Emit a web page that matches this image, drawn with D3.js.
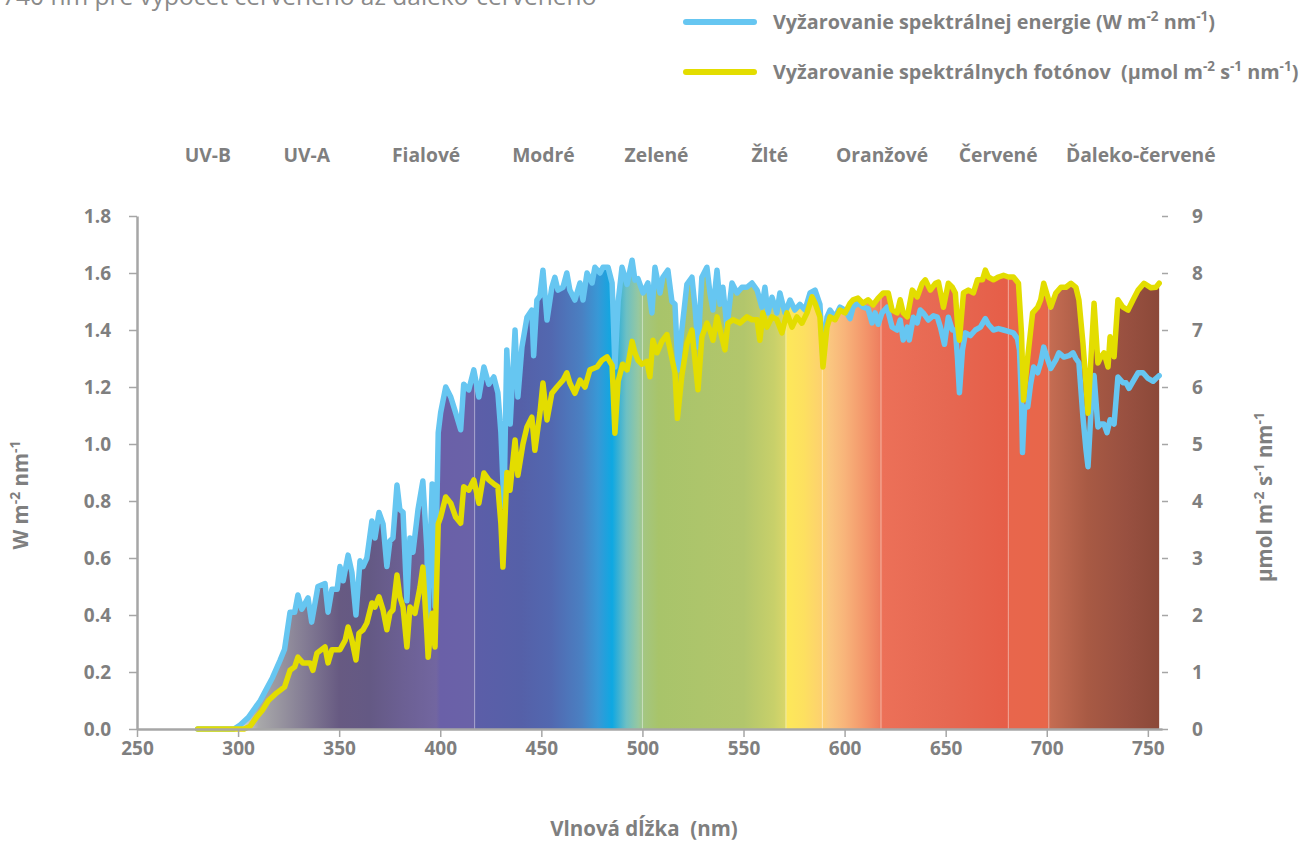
<!DOCTYPE html>
<html>
<head>
<meta charset="utf-8">
<script src="https://cdn.jsdelivr.net/npm/d3@7"></script>
<style>
  html, body { margin: 0; padding: 0; background: #fff; }
  svg { display: block; }
  text { font-family: "Open Sans", "Noto Sans", sans-serif; }
</style>
</head>
<body>
<svg id="chart" width="1309" height="844"></svg>
<script>
// Spectral energy irradiance, W m-2 nm-1 (left axis)
const energyNm = [280, 290, 298, 301, 305, 308, 311, 314, 317, 320.7, 323, 325.7, 328, 329.6, 331.5, 334.6, 336.4, 339.5, 343, 344.5,
  346.4, 349, 350.4, 352, 354.4, 356.3, 358.3, 360.3, 361.8, 363.7, 366.2, 367.7, 369.7, 371.7, 373.6, 375.1, 376.6, 378.6, 380, 381.6,
  383.5, 385, 386.5, 389, 391.4, 393.4, 394, 396, 397.4, 399, 400.2, 401.3, 402.7, 405.2, 407.6, 410.1, 411.6, 414.1, 416.6, 419.1,
  421.6, 424, 426.5, 428.5, 430, 431.5, 432.9, 434.6, 437, 438.4, 440.4, 442.9, 445.3, 446.2, 447.8, 449.3, 450.8, 452.8, 455.2, 456.7,
  458.2, 460.7, 462.6, 464.1, 466.6, 469.1, 470.6, 472.6, 475.1, 476.5, 479, 480.5, 483, 485, 486.4, 488, 489.9, 492.4, 494.9, 496.3,
  497.8, 500.3, 502.7, 504.7, 506.2, 508.7, 510.1, 512.6, 514.6, 516.1, 517.6, 519.5, 522, 524.5, 526, 527.5, 529.4, 531.9, 533.4, 534.9,
  536.9, 538.4, 539.8, 541.8, 544.3, 546.8, 549.2, 551.7, 554.2, 556.7, 559.1, 560.6, 562.1, 564.1, 566.5, 568, 570.5, 573, 575.4, 577.9,
  580.4, 582.9, 585.4, 587.8, 589.3, 591.3, 592.8, 595.3, 597.7, 600.2, 602.7, 604.2, 606.6, 609.1, 611.6, 613.6, 615.1, 616.6, 618.5, 621,
  623.5, 626, 627.5, 629, 631, 632, 634, 635.9, 637.4, 638.9, 641.4, 643.9, 645.9, 647.4, 649.4, 651.3, 653.3, 654.8, 655.8, 656.8,
  658.3, 659.8, 662.2, 664.7, 667.2, 669.6, 671.1, 673.6, 676.1, 678.6, 681, 683.5, 685.5, 686.5, 687.5, 688, 689, 690.6, 692, 693.5,
  695.5, 697, 698.5, 700.5, 702, 704.5, 706, 708.5, 711, 713, 714.4, 715.9, 717.9, 719.4, 720.4, 721.9, 723.4, 725.3, 726.8, 728.3,
  729.8, 731.3, 733.3, 735.2, 737.7, 739.2, 740.7, 742.7, 745.2, 747.6, 750.1, 752.6, 754, 755.6];
const energyVal = [0, 0, 0, 0.014, 0.04, 0.07, 0.10, 0.14, 0.18, 0.24, 0.28, 0.41, 0.41, 0.47, 0.42, 0.46, 0.375, 0.50, 0.51, 0.41,
  0.49, 0.49, 0.57, 0.52, 0.61, 0.55, 0.40, 0.59, 0.57, 0.60, 0.73, 0.67, 0.76, 0.72, 0.57, 0.66, 0.67, 0.856, 0.77, 0.76,
  0.45, 0.67, 0.62, 0.77, 0.87, 0.63, 0.39, 0.86, 0.43, 1.04, 1.11, 1.15, 1.20, 1.165, 1.11, 1.05, 1.21, 1.19, 1.26, 1.165,
  1.27, 1.21, 1.235, 1.18, 1.04, 0.78, 1.33, 1.07, 1.40, 1.165, 1.34, 1.445, 1.47, 1.31, 1.505, 1.52, 1.61, 1.435, 1.55, 1.585,
  1.54, 1.55, 1.60, 1.54, 1.505, 1.565, 1.505, 1.60, 1.565, 1.62, 1.60, 1.62, 1.62, 1.565, 1.27, 1.50, 1.62, 1.56, 1.645, 1.575,
  1.58, 1.53, 1.565, 1.46, 1.62, 1.53, 1.585, 1.61, 1.50, 1.49, 1.26, 1.40, 1.56, 1.585, 1.48, 1.34, 1.585, 1.62, 1.53, 1.47,
  1.61, 1.49, 1.55, 1.41, 1.565, 1.53, 1.55, 1.55, 1.565, 1.54, 1.48, 1.55, 1.46, 1.515, 1.46, 1.53, 1.46, 1.505, 1.47, 1.49,
  1.47, 1.53, 1.54, 1.49, 1.295, 1.445, 1.47, 1.445, 1.48, 1.47, 1.44, 1.48, 1.495, 1.48, 1.475, 1.425, 1.46, 1.42, 1.46, 1.48,
  1.41, 1.40, 1.435, 1.365, 1.41, 1.365, 1.445, 1.425, 1.47, 1.46, 1.435, 1.45, 1.445, 1.41, 1.35, 1.445, 1.40, 1.40, 1.305, 1.18,
  1.33, 1.39, 1.38, 1.40, 1.41, 1.44, 1.42, 1.40, 1.405, 1.40, 1.395, 1.39, 1.37, 1.33, 1.15, 0.97, 1.13, 1.13, 1.21, 1.27,
  1.25, 1.285, 1.34, 1.295, 1.265, 1.295, 1.32, 1.305, 1.31, 1.32, 1.30, 1.285, 1.095, 0.98, 0.92, 1.12, 1.24, 1.06, 1.07, 1.07,
  1.04, 1.085, 1.07, 1.235, 1.215, 1.215, 1.195, 1.22, 1.25, 1.25, 1.23, 1.22, 1.23, 1.24];

// Spectral photon irradiance, µmol m-2 s-1 nm-1 (right axis)
const photonNm = [280, 290, 300, 303, 306, 309, 312, 315, 319, 323, 325.7, 328, 329.6, 332, 335.6, 337, 339, 343, 344.5, 346.4,
  350.4, 353, 354.4, 356.3, 358.3, 359.8, 361.8, 363.7, 366.2, 367.7, 369.7, 371.7, 373.6, 375.1, 376.6, 378.6, 380, 381.6, 383.5, 385,
  387.5, 390, 391.4, 393.4, 394, 396, 397.4, 399, 400.2, 402.7, 405.2, 407.6, 410.1, 411.6, 414.1, 416.6, 419.1, 421.6, 424, 426.5,
  428.5, 430, 431, 433, 434.5, 437, 438.4, 440.9, 442.9, 445.3, 446.8, 449.3, 450.8, 452.8, 455.2, 457.7, 460.7, 462.6, 464.1, 466.6,
  469.1, 471.6, 474, 477.5, 480, 482.5, 485, 486.4, 488, 490.2, 492.4, 494.9, 496.3, 497.8, 499.8, 502.2, 503.7, 505.2, 507.2, 509.6,
  512.1, 514.6, 516.1, 517.3, 519.5, 522, 524.5, 526, 527.5, 529.4, 531.9, 533.4, 534.9, 536.9, 538.4, 540.8, 542.3, 544.8, 548.2, 551.7,
  554.2, 556.7, 558.1, 559.6, 561.6, 564.1, 566.5, 569, 571.5, 574, 576.4, 578.9, 581.4, 583.9, 585.4, 587.8, 589.3, 591.3, 592.8, 595.3,
  597.7, 600.2, 602.7, 604.2, 606.6, 609.1, 611.6, 614.1, 616.6, 619.1, 621.6, 623.5, 626, 627.5, 629, 631, 633.5, 635.9, 638.4, 639.9,
  642.4, 644.9, 646.4, 648.9, 651.3, 653.3, 654.8, 655.8, 656.8, 658.8, 661.2, 663.7, 665.7, 668.2, 669.6, 671.1, 673.6, 676.1, 678.6, 681,
  683.5, 686, 687.5, 688.5, 690.6, 693, 695.5, 697, 698.5, 700.5, 702, 704.5, 707, 709.5, 712, 714.4, 715.9, 717.9, 719.4, 720.4,
  721.9, 723.4, 725.3, 726.8, 728.3, 730.3, 731.3, 733.3, 735.2, 737.7, 740.2, 742.7, 745.2, 748.1, 751.6, 754, 755.6];
const photonVal = [0, 0, 0, 0, 0.05, 0.2, 0.33, 0.5, 0.63, 0.74, 1.03, 1.09, 1.26, 1.16, 1.16, 1.03, 1.33, 1.44, 1.16, 1.39,
  1.39, 1.56, 1.79, 1.56, 1.21, 1.68, 1.74, 1.86, 2.21, 2.14, 2.32, 2.09, 1.74, 2.03, 2.09, 2.70, 2.32, 2.14, 1.44, 2.14,
  2.03, 2.49, 2.84, 1.68, 1.26, 2.03, 1.44, 3.6, 3.72, 4.07, 3.96, 3.72, 3.61, 4.25, 4.19, 4.37, 3.96, 4.49, 4.37, 4.30,
  4.25, 3.6, 2.84, 4.5, 4.19, 5.07, 4.45, 5.0, 5.30, 5.47, 4.89, 5.54, 6.07, 5.42, 5.89, 6.0, 6.12, 6.25, 6.07, 5.89,
  6.12, 6.0, 6.30, 6.35, 6.47, 6.53, 6.38, 5.19, 6.1, 6.4, 6.3, 6.8, 6.6, 6.47, 6.4, 6.45, 6.18, 6.82, 6.6, 6.8,
  6.92, 6.5, 6.25, 5.45, 6.2, 6.76, 7.0, 6.47, 5.95, 6.88, 7.12, 7.0, 6.82, 7.23, 7.0, 6.65, 7.12, 7.18, 7.12, 7.23,
  7.18, 7.18, 6.82, 7.3, 7.05, 7.23, 7.18, 6.95, 7.3, 7.05, 7.23, 7.12, 7.3, 7.58, 7.47, 7.23, 6.35, 7.05, 7.23, 7.18,
  7.35, 7.3, 7.47, 7.53, 7.56, 7.47, 7.53, 7.44, 7.56, 7.65, 7.65, 7.35, 7.30, 7.53, 7.30, 7.23, 7.70, 7.58, 7.82, 7.88,
  7.70, 7.82, 7.84, 7.40, 7.82, 7.75, 7.65, 7.12, 6.82, 7.65, 7.70, 7.65, 7.88, 7.88, 8.05, 7.93, 7.88, 7.93, 7.96, 7.93,
  7.93, 7.82, 6.95, 5.77, 6.53, 7.30, 7.40, 7.53, 7.82, 7.58, 7.40, 7.65, 7.75, 7.75, 7.82, 7.75, 7.53, 6.77, 6.07, 5.54,
  6.53, 7.47, 6.42, 6.53, 6.60, 6.35, 6.88, 6.53, 7.53, 7.40, 7.35, 7.53, 7.70, 7.82, 7.74, 7.75, 7.82];

// Colour bands across the spectrum
const bandNames = ["UV-B", "UV-A", "Fialové", "Modré", "Zelené", "Žlté", "Oranžové", "Červené", "Ďaleko-červené"];
const bandCentres = [285, 334, 393, 451, 507, 563, 618.5, 676, 746.5];
const bandEdges = [417, 500, 571, 589, 618, 681, 701];

// Fill colour stops along the wavelength axis
const fillNm = [300, 310, 320, 335, 350, 365, 380, 398, 400, 416.5, 417.5, 440, 455, 470, 478, 485, 488, 492, 498, 501,
  508, 550, 565, 570.5, 571.5, 580, 589, 592, 600, 612, 617, 619, 650, 680, 682, 700, 702, 720, 740, 757];
const fillColors = ["#e2e2e2", "#a9a9aa", "#9996a0", "#807892", "#675a82", "#645984", "#6b5f92", "#7266a0", "#6a60a8", "#6a62a8",
  "#5c5ea8", "#5560a8", "#5268b0", "#4a80c2", "#3898d6", "#0ea8e2", "#38b0d4", "#6cc0c4", "#96c8a0", "#a4c680",
  "#a8c46a", "#b2c66c", "#c8d06a", "#d8d66a", "#fde85a", "#fde060", "#fdd070", "#fac880", "#f8b47a", "#f29068",
  "#ee8060", "#ec7058", "#e66852", "#e65e48", "#e8664c", "#e8664a", "#c46c52", "#a85a44", "#985040", "#8a4838"];

// Axis ticks
const xTicks = [250, 300, 350, 400, 450, 500, 550, 600, 650, 700, 750];
const leftTicks = [0, 0.2, 0.4, 0.6, 0.8, 1.0, 1.2, 1.4, 1.6, 1.8];
const rightTicks = [0, 1, 2, 3, 4, 5, 6, 7, 8, 9];

const energy = energyNm.map((nm, i) => ({ nm, v: energyVal[i] }));
const photons = photonNm.map((nm, i) => ({ nm, v: photonVal[i] }));

const svg = d3.select("#chart");
const grey = "#7f7f7f";
const axisGrey = "#a6a6a6";
const blue = "#66c6f1";
const yellow = "#e3dd00";

const x = d3.scaleLinear().domain([250, 757]).range([137, 1162]);
const yL = d3.scaleLinear().domain([0, 1.8]).range([729, 216]);
const yR = d3.scaleLinear().domain([0, 9]).range([729, 216]);

// Note line running along the top edge of the page
svg.append("text")
  .attr("x", 2).attr("y", 5)
  .attr("font-size", 24.5).attr("fill", "#8a8a8a")
  .text("740 nm pre výpočet červeného až ďaleko-červeného");

// Gradient across the wavelengths
const defs = svg.append("defs");
const grad = defs.append("linearGradient")
  .attr("id", "spectrum")
  .attr("gradientUnits", "userSpaceOnUse")
  .attr("x1", x(fillNm[0])).attr("x2", x(fillNm[fillNm.length - 1]))
  .attr("y1", 0).attr("y2", 0);
const span = fillNm[fillNm.length - 1] - fillNm[0];
fillNm.forEach((nm, i) => {
  grad.append("stop")
    .attr("offset", (nm - fillNm[0]) / span)
    .attr("stop-color", fillColors[i]);
});

const areaE = d3.area().x(d => x(d.nm)).y0(yL(0)).y1(d => yL(d.v));
const areaP = d3.area().x(d => x(d.nm)).y0(yR(0)).y1(d => yR(d.v));

// Filled region under the higher of the two curves
const clip = defs.append("clipPath").attr("id", "under");
clip.append("path").attr("d", areaE(energy));
clip.append("path").attr("d", areaP(photons));

const fillG = svg.append("g").attr("clip-path", "url(#under)");
fillG.append("rect")
  .attr("x", x(250)).attr("y", yL(1.8))
  .attr("width", x(757) - x(250)).attr("height", yL(0) - yL(1.8))
  .attr("fill", "url(#spectrum)");
fillG.selectAll("line.edge").data(bandEdges).join("line")
  .attr("class", "edge")
  .attr("x1", d => x(d)).attr("x2", d => x(d))
  .attr("y1", yL(1.8)).attr("y2", yL(0))
  .attr("stroke", "#ffffff").attr("stroke-opacity", 0.45).attr("stroke-width", 1);

// Curves
const lineE = d3.line().x(d => x(d.nm)).y(d => yL(d.v));
const lineP = d3.line().x(d => x(d.nm)).y(d => yR(d.v));
svg.append("path").attr("d", lineE(energy))
  .attr("fill", "none").attr("stroke", blue).attr("stroke-width", 5.5)
  .attr("stroke-linejoin", "round").attr("stroke-linecap", "round");
svg.append("path").attr("d", lineP(photons))
  .attr("fill", "none").attr("stroke", yellow).attr("stroke-width", 5.5)
  .attr("stroke-linejoin", "round").attr("stroke-linecap", "round");

// Axes
function styleAxis(g, showDomain) {
  g.selectAll("text").attr("fill", grey).attr("font-size", 19).attr("font-weight", "bold")
    .attr("font-family", "'Open Sans', sans-serif");
  g.selectAll(".tick line").attr("stroke", axisGrey).attr("stroke-width", 1.5);
  g.select(".domain").attr("stroke", showDomain ? axisGrey : "none").attr("stroke-width", 2.5);
}

const xAxis = svg.append("g").attr("transform", `translate(0,${yL(0)})`)
  .call(d3.axisBottom(x).tickValues(xTicks).tickSize(8).tickSizeOuter(0).tickPadding(5).tickFormat(d3.format("d")));
styleAxis(xAxis, true);

const lAxis = svg.append("g").attr("transform", `translate(${x(250)},0)`)
  .call(d3.axisLeft(yL).tickValues(leftTicks).tickSize(8).tickSizeOuter(0).tickPadding(18).tickFormat(d3.format(".1f")));
styleAxis(lAxis, true);

const rAxis = svg.append("g").attr("transform", `translate(${x(757)},0)`)
  .call(d3.axisRight(yR).tickValues(rightTicks).tickSize(6).tickSizeOuter(0).tickPadding(24).tickFormat(d3.format("d")));
styleAxis(rAxis, false);

// Text with superscript pieces; a raised piece is followed by a drop back to the baseline
function richText(sel, parts, size) {
  const shift = size * 0.38;
  let raised = false;
  parts.forEach(([s, sup]) => {
    const t = sel.append("tspan").text(s);
    if (sup) {
      t.attr("dy", -shift).attr("font-size", size * 0.68);
      raised = true;
    } else if (raised) {
      t.attr("dy", shift);
      raised = false;
    }
  });
}

// Band labels
svg.append("g").selectAll("text").data(bandNames).join("text")
  .attr("x", (d, i) => x(bandCentres[i])).attr("y", 162)
  .attr("text-anchor", "middle").attr("font-size", 19.3).attr("font-weight", "bold").attr("fill", grey)
  .text(d => d);

// Legend
const legend = [
  { color: blue, y: 22, parts: [["Vyžarovanie spektrálnej energie (W m"], ["-2", 1], [" nm"], ["-1", 1], [")"]] },
  { color: yellow, y: 72, parts: [["Vyžarovanie spektrálnych fotónov  (µmol m"], ["-2", 1], [" s"], ["-1", 1], [" nm"], ["-1", 1], [")"]] }
];
legend.forEach(l => {
  svg.append("line").attr("x1", 686).attr("x2", 754).attr("y1", l.y).attr("y2", l.y)
    .attr("stroke", l.color).attr("stroke-width", 6).attr("stroke-linecap", "round");
  const t = svg.append("text").attr("x", 773).attr("y", l.y + 7)
    .attr("font-size", 19.8).attr("font-weight", "bold").attr("fill", grey)
    .style("white-space", "pre");
  richText(t, l.parts, 19.8);
});

// Axis titles
svg.append("text").attr("x", 644).attr("y", 836).attr("text-anchor", "middle")
  .attr("font-size", 20.5).attr("font-weight", "bold").attr("fill", grey).style("white-space", "pre")
  .text("Vlnová dĺžka  (nm)");

const lt = svg.append("text").attr("transform", "translate(28,495) rotate(-90)").attr("text-anchor", "middle")
  .attr("font-size", 20.5).attr("font-weight", "bold").attr("fill", grey);
richText(lt, [["W m"], ["-2", 1], [" nm"], ["-1", 1]], 20.5);

const rt = svg.append("text").attr("transform", "translate(1272,497) rotate(-90)").attr("text-anchor", "middle")
  .attr("font-size", 20.5).attr("font-weight", "bold").attr("fill", grey);
richText(rt, [["µmol m"], ["-2", 1], [" s"], ["-1", 1], [" nm"], ["-1", 1]], 20.5);
</script>
</body>
</html>
